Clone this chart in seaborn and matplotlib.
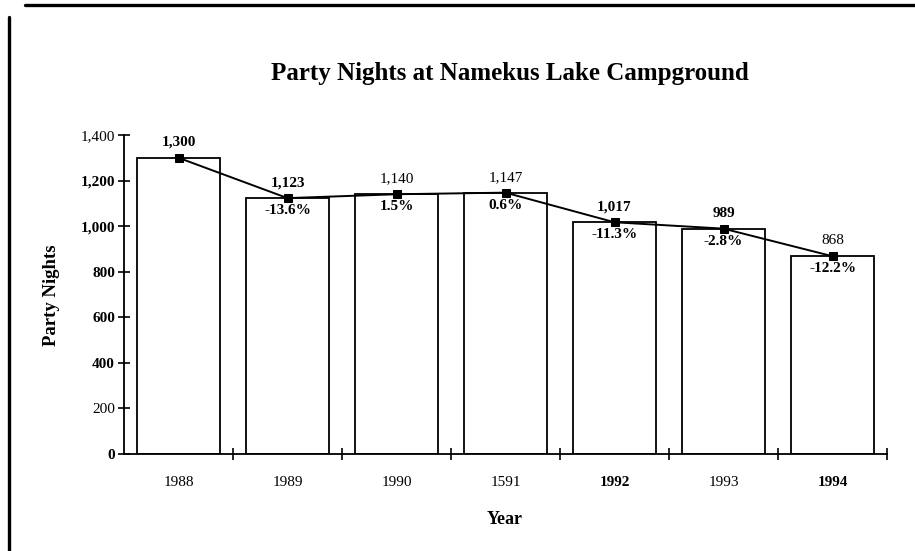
import matplotlib
matplotlib.use("Agg")
import matplotlib.pyplot as plt
from matplotlib.lines import Line2D
import seaborn as sns
import pandas as pd

# Data
years = ["1988", "1989", "1990", "1591", "1992", "1993", "1994"]
party_nights = [1300, 1123, 1140, 1147, 1017, 989, 868]
pct_change = [None, -13.6, 1.5, 0.6, -11.3, -2.8, -12.2]
value_bold = [True, True, False, False, True, True, False]
year_bold = [False, False, False, False, True, False, True]
y_ticks = [0, 200, 400, 600, 800, 1000, 1200, 1400]
y_tick_bold = [True, False, True, True, True, True, True, False]

sns.set_style("white")
plt.rcParams["font.family"] = ["Liberation Serif", "DejaVu Serif"]
plt.rcParams.update({
    "text.color": "black",
    "axes.labelcolor": "black",
    "axes.edgecolor": "black",
    "xtick.color": "black",
    "ytick.color": "black",
})

df = pd.DataFrame({"Year": years, "Party Nights": party_nights})

fig = plt.figure(figsize=(9.15, 5.51), dpi=100)
ax = fig.add_axes([124 / 915, 1 - 454 / 551, (887 - 124) / 915, (454 - 135) / 551])

sns.barplot(data=df, x="Year", y="Party Nights", order=years, color="white",
            edgecolor="black", linewidth=1.3, width=0.77, ax=ax, zorder=1)
xs = list(range(len(years)))
sns.lineplot(x=xs, y=party_nights, ax=ax, color="black", linewidth=1.4,
             marker="s", markersize=6, markeredgecolor="black",
             markerfacecolor="black", zorder=3)

# Value labels above the markers, percent change below
for i, (v, p) in enumerate(zip(party_nights, pct_change)):
    ax.annotate(f"{v:,}", (i, v), xytext=(0, 11), textcoords="offset points",
                ha="center", va="center", fontsize=11, color="black",
                fontweight="bold" if value_bold[i] else "normal")
    if p is not None:
        ax.annotate(f"{p:.1f}%", (i, v), xytext=(0, -9), textcoords="offset points",
                    ha="center", va="center", fontsize=11, fontweight="bold",
                    color="black")

ax.set_xlim(-0.5, len(years) - 0.5)
ax.set_ylim(0, 1400)

# Axes styling
for side in ["top", "right"]:
    ax.spines[side].set_visible(False)
ax.spines["left"].set_linewidth(1.3)
ax.spines["bottom"].set_linewidth(1.3)

ax.set_yticks(y_ticks)
ax.set_yticklabels([f"{t:,}" for t in y_ticks], fontsize=11)
for lbl, b in zip(ax.get_yticklabels(), y_tick_bold):
    lbl.set_fontweight("bold" if b else "normal")
ax.tick_params(axis="y", left=True, direction="inout", length=9, width=1.2, pad=2)

ax.set_xticks(xs)
ax.set_xticklabels(years, fontsize=11)
for lbl, b in zip(ax.get_xticklabels(), year_bold):
    lbl.set_fontweight("bold" if b else "normal")
ax.tick_params(axis="x", which="major", bottom=True, length=0, pad=16)
ax.set_xticks([i + 0.5 for i in xs], minor=True)
ax.tick_params(axis="x", which="minor", bottom=True, direction="inout",
               length=9, width=1.2)

ax.set_xlabel("")
ax.set_ylabel("")
fig.text(505 / 915, 1 - 520 / 551, "Year", ha="center", va="center",
         fontsize=13, fontweight="bold")
fig.text(51 / 915, 1 - 295 / 551, "Party Nights", ha="center", va="center",
         rotation=90, fontsize=13.5, fontweight="bold")

fig.text(510 / 915, 1 - 80 / 551, "Party Nights at Namekus Lake Campground",
         ha="center", va="baseline", fontsize=18, fontweight="bold")

# Page frame lines
fig.add_artist(Line2D([25 / 915, 1.0], [1 - 4.7 / 551] * 2, color="black",
                      linewidth=2.4, transform=fig.transFigure))
fig.add_artist(Line2D([9 / 915] * 2, [0, 1 - 17 / 551], color="black",
                      linewidth=2.4, transform=fig.transFigure))

fig.savefig("out.png", dpi=100)
